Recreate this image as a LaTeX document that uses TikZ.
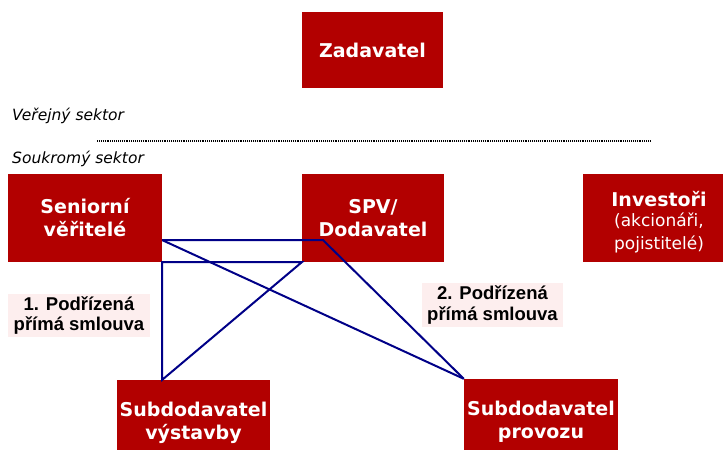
\documentclass[tikz,border=0pt]{standalone}
\usepackage{fontspec}
\setmainfont{DejaVu Sans}
\newfontfamily\labelfont{Liberation Sans}
\usetikzlibrary{calc}
\definecolor{boxred}{RGB}{178,0,0}
\definecolor{linknavy}{RGB}{0,0,135}
\definecolor{notepink}{RGB}{253,238,238}
\tikzset{
  party/.style={fill=boxred, draw=none, text=white, align=center,
    font=\bfseries\fontsize{19}{23}\selectfont, inner sep=0pt},
  partytext/.style={text=white, align=center,
    font=\bfseries\fontsize{19}{23}\selectfont, inner sep=0pt},
  note/.style={fill=notepink, draw=none, text=black, align=center,
    font=\labelfont\bfseries\fontsize{18.5}{20.5}\selectfont, inner sep=0pt},
  sector/.style={anchor=west, font=\itshape\fontsize{15.5}{17}\selectfont, inner sep=0pt},
  link/.style={draw=linknavy, line width=2pt, line join=miter},
}
\newcommand\subnote{\mdseries\fontsize{17}{19.5}\selectfont}
\begin{document}
\begin{tikzpicture}[x=1pt, y=-1pt]
\useasboundingbox (0,0) rectangle (724,450);

% parties
\node[party, minimum width=141pt, minimum height=76pt] (zad) at (372.5,50) {Zadavatel};
\node[party, minimum width=154pt, minimum height=88pt] (sen) at (85,218) {Seniorní\\věřitelé};
\node[party, minimum width=142pt, minimum height=88pt] (spv) at (373,218) {SPV/\\Dodavatel};
\node[party, minimum width=140pt, minimum height=88pt] (inv) at (653,218) {};
\node[partytext] (invtext) at ($(inv.center)+(6,4)$)
  {Investoři\\[-3pt]\subnote (akcionáři,\\\subnote pojistitelé)};
\node[party, minimum width=153pt, minimum height=86pt] (vys) at (193.5,423) {Subdodavatel\\výstavby};
\node[party, minimum width=154pt, minimum height=86pt] (pro) at (541,422) {Subdodavatel\\provozu};

% sector labels and divider
\node[sector] (pub) at (12,116) {Veřejný sektor};
\node[sector] (pri) at (12,159) {Soukromý sektor};
\coordinate (divA) at (97,141);
\coordinate (divB) at (650,141);
\draw[line width=1.6pt, dash pattern=on 1pt off 0.9pt] (divA) -- (divB);

% subordinate contract labels
\node[note, minimum width=142pt, minimum height=43pt] (n1) at (79,315.5) {1. Podřízená\\přímá smlouva};
\node[note, minimum width=141pt, minimum height=44pt] (n2) at (492.5,305) {2. Podřízená\\přímá smlouva};

% contract links
\coordinate (senA) at ($(sen.north east)!0.75!(sen.south east)$);
\coordinate (spvA) at ($(spv.south west)!0.15!(spv.south east) + (0,-22)$);
\draw[link] (senA) -- (spvA) -- (pro.north west);
\draw[link] (senA) -- (pro.north west);
\coordinate (vysA) at (sen.south east |- vys.north);
\draw[link] (vysA) -- (sen.south east) -- (spv.south west) -- cycle;
\end{tikzpicture}
\end{document}
